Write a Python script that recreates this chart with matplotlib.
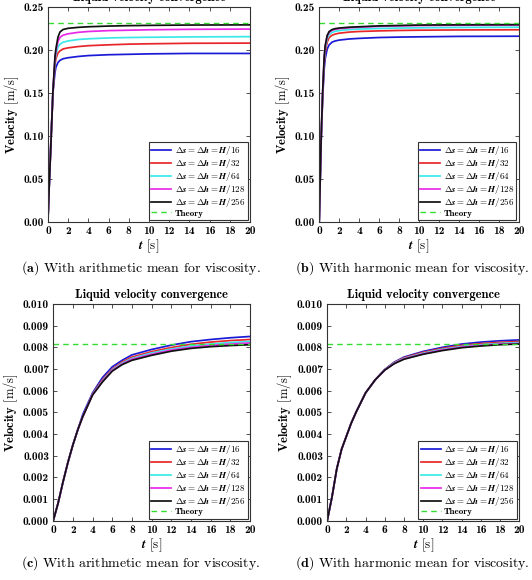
import matplotlib
matplotlib.use("Agg")
import matplotlib.pyplot as plt
from matplotlib.ticker import FormatStrFormatter, MultipleLocator

plt.rcParams['mathtext.fontset'] = 'cm'
plt.rcParams['font.family'] = 'cmr10'
plt.rcParams['axes.unicode_minus'] = False

# legend labels / colours
labels = [r'$\boldsymbol{\Delta s = \Delta h = H/16}$',
          r'$\boldsymbol{\Delta s = \Delta h = H/32}$',
          r'$\boldsymbol{\Delta s = \Delta h = H/64}$',
          r'$\boldsymbol{\Delta s = \Delta h = H/128}$',
          r'$\boldsymbol{\Delta s = \Delta h = H/256}$']
colors = ['#1a1ad6', '#e8262a', '#3be8e8', '#e82ae8', '#111111']

# (a) arithmetic mean, grid velocity
t_a = [0, 0.15, 0.3, 0.5, 0.7, 0.8, 1.0, 1.2, 1.5, 2, 3, 4, 6, 8, 10, 14, 20]
a16 = [0, 0.050, 0.095, 0.150, 0.174, 0.180, 0.1855, 0.188, 0.1898, 0.1910, 0.1925, 0.1935, 0.1945, 0.1950, 0.1955, 0.1960, 0.1960]
a32 = [0, 0.049, 0.093, 0.151, 0.183, 0.190, 0.1965, 0.199, 0.2012, 0.2025, 0.2040, 0.2050, 0.2060, 0.2068, 0.2072, 0.2078, 0.2080]
a64 = [0, 0.048, 0.092, 0.152, 0.187, 0.195, 0.2035, 0.2068, 0.2090, 0.2105, 0.2122, 0.2130, 0.2140, 0.2145, 0.2148, 0.2152, 0.2155]
a128 = [0, 0.047, 0.091, 0.152, 0.190, 0.199, 0.2100, 0.2148, 0.2172, 0.2188, 0.2205, 0.2215, 0.2225, 0.2230, 0.2235, 0.2240, 0.2243]
a256 = [0, 0.047, 0.090, 0.152, 0.192, 0.202, 0.2150, 0.2210, 0.2238, 0.2252, 0.2263, 0.2270, 0.2278, 0.2283, 0.2286, 0.2290, 0.2292]

# (b) harmonic mean, grid velocity
t_b = [0, 0.1, 0.2, 0.35, 0.5, 0.6, 0.8, 1.0, 1.3, 1.6, 2, 3, 4, 6, 8, 10, 14, 20]
b16 = [0, 0.048, 0.095, 0.145, 0.178, 0.190, 0.201, 0.206, 0.2092, 0.2105, 0.2115, 0.2128, 0.2135, 0.2145, 0.2150, 0.2153, 0.2158, 0.2160]
b32 = [0, 0.049, 0.097, 0.149, 0.185, 0.197, 0.209, 0.2145, 0.2172, 0.2185, 0.2195, 0.2208, 0.2215, 0.2222, 0.2227, 0.2230, 0.2233, 0.2235]
b64 = [0, 0.050, 0.099, 0.151, 0.188, 0.201, 0.213, 0.2180, 0.2205, 0.2217, 0.2225, 0.2237, 0.2243, 0.2250, 0.2255, 0.2258, 0.2262, 0.2265]
b128 = [0, 0.050, 0.100, 0.152, 0.191, 0.204, 0.216, 0.2205, 0.2230, 0.2240, 0.2248, 0.2258, 0.2265, 0.2275, 0.2280, 0.2284, 0.2288, 0.2290]
b256 = [0, 0.050, 0.100, 0.152, 0.192, 0.205, 0.217, 0.2215, 0.2238, 0.2248, 0.2255, 0.2265, 0.2270, 0.2280, 0.2285, 0.2290, 0.2293, 0.2295]
theory_grid = 0.2315

# (c) arithmetic mean, liquid velocity
t_c = [0, 0.5, 1, 1.5, 2, 2.5, 3, 4, 5, 6, 7, 8, 10, 12, 14, 16, 18, 20]
c16 = [0, 0.00082, 0.0018, 0.0027, 0.0035, 0.0042, 0.0049, 0.0059, 0.0066, 0.00710, 0.00740, 0.00765, 0.00790, 0.00810, 0.00826, 0.00836, 0.00844, 0.00850]
c32 = [0, 0.00082, 0.0018, 0.0027, 0.0035, 0.0042, 0.0048, 0.00585, 0.0065, 0.00700, 0.00732, 0.00755, 0.00780, 0.00799, 0.00814, 0.00824, 0.00831, 0.00836]
c64 = [0, 0.00082, 0.0018, 0.0027, 0.0035, 0.0042, 0.0048, 0.00583, 0.00645, 0.00696, 0.00727, 0.00749, 0.00774, 0.00792, 0.00806, 0.00815, 0.00822, 0.00827]
c128 = [0, 0.00082, 0.0018, 0.0027, 0.0035, 0.0042, 0.0048, 0.00581, 0.00642, 0.00693, 0.00723, 0.00745, 0.00768, 0.00787, 0.00800, 0.00809, 0.00815, 0.00820]
c256 = [0, 0.00082, 0.0018, 0.0027, 0.0035, 0.0042, 0.0048, 0.00580, 0.00640, 0.00690, 0.00720, 0.00740, 0.00763, 0.00782, 0.00795, 0.00803, 0.00808, 0.00812]

# (d) harmonic mean, liquid velocity
d16 = [0, 0.0011, 0.0024, 0.0033, 0.0039, 0.0045, 0.0050, 0.0059, 0.0065, 0.00698, 0.00732, 0.00755, 0.00781, 0.00800, 0.00815, 0.00824, 0.00830, 0.00834]
d32 = [0, 0.0011, 0.0024, 0.0033, 0.0039, 0.0045, 0.0050, 0.0059, 0.0065, 0.00697, 0.00730, 0.00752, 0.00777, 0.00795, 0.00809, 0.00817, 0.00823, 0.00827]
d64 = [0, 0.0011, 0.0024, 0.0033, 0.0039, 0.0045, 0.0050, 0.0059, 0.0065, 0.00696, 0.00728, 0.00749, 0.00773, 0.00791, 0.00804, 0.00812, 0.00818, 0.00822]
d128 = [0, 0.0011, 0.0024, 0.0033, 0.0039, 0.0045, 0.0050, 0.0059, 0.0065, 0.00695, 0.00726, 0.00747, 0.00770, 0.00788, 0.00801, 0.00809, 0.00815, 0.00818]
d256 = [0, 0.0011, 0.0024, 0.0033, 0.0039, 0.0045, 0.0050, 0.0059, 0.0065, 0.00695, 0.00725, 0.00745, 0.00768, 0.00785, 0.00798, 0.00806, 0.00812, 0.00815]
theory_liquid = 0.00815

captions = [r'$\mathbf{(a)}$ With arithmetic mean for viscosity.',
            r'$\mathbf{(b)}$ With harmonic mean for viscosity.',
            r'$\mathbf{(c)}$ With arithmetic mean for viscosity.',
            r'$\mathbf{(d)}$ With harmonic mean for viscosity.']
title = 'Liquid velocity convergence'

fig = plt.figure(figsize=(5.32, 5.80), dpi=100)
ax_a = fig.add_axes([0.090, 0.617, 0.380, 0.371])
ax_b = fig.add_axes([0.600, 0.617, 0.375, 0.371])
ax_c = fig.add_axes([0.100, 0.102, 0.370, 0.374])
ax_d = fig.add_axes([0.615, 0.102, 0.361, 0.374])

panels = [
    (ax_a, t_a, [a16, a32, a64, a128, a256], theory_grid, 0.25, 0.05, '%.2f'),
    (ax_b, t_b, [b16, b32, b64, b128, b256], theory_grid, 0.25, 0.05, '%.2f'),
    (ax_c, t_c, [c16, c32, c64, c128, c256], theory_liquid, 0.010, 0.001, '%.3f'),
    (ax_d, t_c, [d16, d32, d64, d128, d256], theory_liquid, 0.010, 0.001, '%.3f'),
]

for ax, t, series, theo, ymax, ystep, fmt in panels:
    for y, c, lab in zip(series, colors, labels):
        ax.plot(t, y, color=c, lw=1.25, label=lab)
    ax.axhline(theo, color='#33dd33', lw=1.0, ls=(0, (4, 3)), label='Theory')
    ax.set_xlim(0, 20)
    ax.set_ylim(0, ymax)
    ax.xaxis.set_major_locator(MultipleLocator(2))
    ax.yaxis.set_major_locator(MultipleLocator(ystep))
    ax.yaxis.set_major_formatter(FormatStrFormatter(fmt))
    ax.tick_params(direction='in', top=True, right=True, length=3, width=0.6,
                   labelsize=8.2, labelfontfamily='cmb10', pad=3, color='#333333')
    for s in ax.spines.values():
        s.set_color('#333333')
        s.set_linewidth(0.8)
    ax.set_xlabel(r'$\boldsymbol{t}$ [s]', fontsize=9.5, labelpad=1)
    ax.set_ylabel(r'$\mathbf{Velocity}$ [m/s]', fontsize=9, labelpad=2)
    ax.set_title(title, fontsize=9, fontfamily='cmb10', pad=4)
    leg = ax.legend(loc='lower right', fontsize=6.5, handlelength=2.2,
                    labelspacing=0.0, borderpad=0.25, handletextpad=0.4,
                    fancybox=False, framealpha=1, borderaxespad=0.25)
    leg.get_frame().set_edgecolor('#333333')
    leg.get_frame().set_linewidth(0.8)
    for txt in leg.get_texts():
        if txt.get_text() == 'Theory':
            txt.set_fontfamily('cmb10')

fig.text(0.265, 0.538, captions[0], ha='center', va='center', fontsize=10)
fig.text(0.775, 0.538, captions[1], ha='center', va='center', fontsize=10)
fig.text(0.265, 0.029, captions[2], ha='center', va='center', fontsize=10)
fig.text(0.775, 0.029, captions[3], ha='center', va='center', fontsize=10)

fig.savefig('out.png', dpi=100)
